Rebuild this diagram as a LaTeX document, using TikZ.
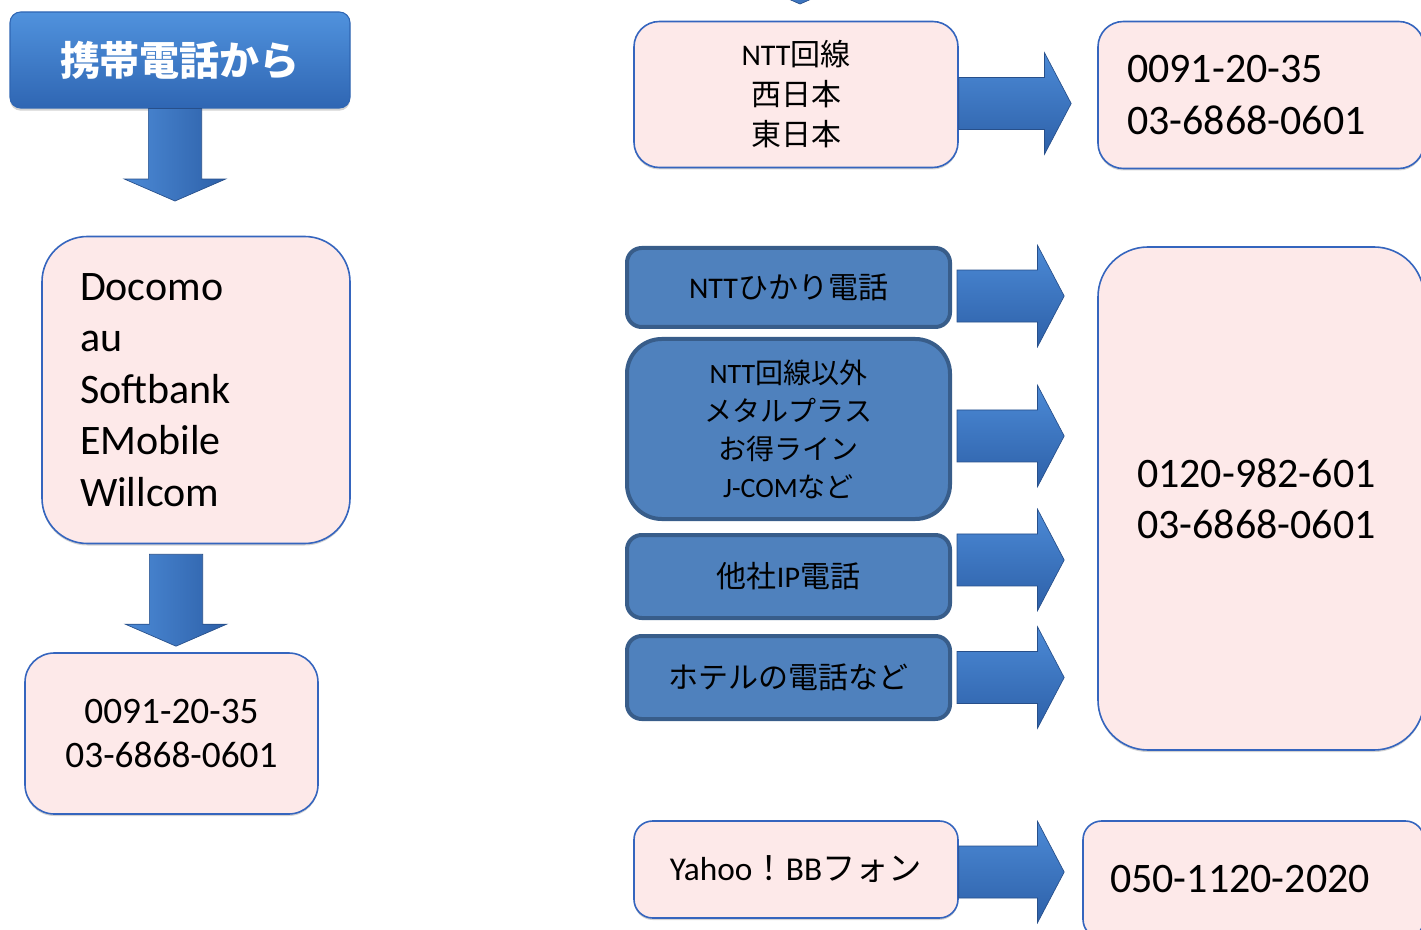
\documentclass[tikz,border=0pt]{standalone}
\usepackage{fontspec}
\setmainfont{Carlito}
\newfontfamily\jpfont{Noto Sans CJK JP}
\usetikzlibrary{calc, positioning, shadows}
\newcommand{\ja}[1]{{\jpfont #1}}
\definecolor{titlelight}{HTML}{5092DD}
\definecolor{titledark}{HTML}{2F66B3}
\definecolor{arrowlight}{HTML}{4C8AD6}
\definecolor{arrowdark}{HTML}{2D60A8}
\definecolor{arrowedge}{HTML}{274F8A}
\definecolor{pinkfill}{HTML}{FDE9E9}
\definecolor{pinkline}{HTML}{3565BE}
\definecolor{bluefill}{HTML}{4F81BD}
\definecolor{blueline}{HTML}{385D8A}
% block arrow to the right: start point, tip point (x only)
\newcommand{\rightblock}[2]{%
  \path[blockarrow] let \p1=(#1), \p2=(#2) in
    (\x1,\y1+19.5pt) -- (\x2-20pt,\y1+19.5pt) -- (\x2-20pt,\y1+38pt) -- (\x2,\y1)
    -- (\x2-20pt,\y1-38pt) -- (\x2-20pt,\y1-19.5pt) -- (\x1,\y1-19.5pt) -- cycle;}
% block arrow downwards: start point, tip point (y only)
\newcommand{\downblock}[2]{%
  \path[blockarrow, left color=arrowlight, right color=arrowdark] let \p1=(#1), \p2=(#2) in
    (\x1-20pt,\y1) -- (\x1+20pt,\y1) -- (\x1+20pt,\y2+16.5pt) -- (\x1+38pt,\y2+16.5pt)
    -- (\x1,\y2) -- (\x1-38pt,\y2+16.5pt) -- (\x1-20pt,\y2+16.5pt) -- cycle;}

\begin{document}
\begin{tikzpicture}[x=0.75pt, y=-0.75pt,
  pinkbox/.style={draw=pinkline, line width=1.2pt, fill=pinkfill, rounded corners=#1, inner sep=0pt,
    drop shadow={shadow xshift=0pt, shadow yshift=-1.5pt, opacity=0.35}},
  pinkbox/.default=19pt,
  bluebox/.style={draw=blueline, line width=3pt, fill=bluefill, rounded corners=#1, inner sep=0pt,
    minimum width=242.25pt, align=center, font=\fontsize{22.5pt}{28.5pt}\selectfont},
  bluebox/.default=11pt,
  titlebox/.style={draw=titledark, line width=0.8pt, top color=titlelight, bottom color=titledark,
    rounded corners=8pt, text=white, font=\fontsize{30pt}{36pt}\selectfont\bfseries,
    drop shadow={shadow xshift=0pt, shadow yshift=-2pt, opacity=0.35}},
  blockarrow/.style={draw=arrowedge, line width=0.5pt, top color=arrowlight, bottom color=arrowdark},
  bignum/.style={font=\fontsize{31.5pt}{38.3pt}\selectfont, align=left}]
\useasboundingbox (0,0) rectangle (1421,930);

% left column
\node[titlebox, minimum width=255pt, minimum height=72pt] (mobile) at (180,60) {\raisebox{-3pt}{\ja{携帯電話から}}};
\node[pinkbox=34pt, minimum width=231pt, minimum height=230.25pt, text width=174pt, align=left,
  font=\fontsize{31.5pt}{38.6pt}\selectfont] (carriers) at (196,390)
  {Docomo\\au\\Softbank\\EMobile\\Willcom};
\node[pinkbox=22pt, minimum width=219.75pt, minimum height=120.75pt, align=center,
  font=\fontsize{28pt}{33pt}\selectfont] (mobnum) at (171.5,733.5) {0091-20-35\\03-6868-0601};

% right column
\node[pinkbox, minimum width=243pt, minimum height=109.5pt, align=center,
  font=\fontsize{22.5pt}{30pt}\selectfont] (nttline) at (796,94.5) {NTT\ja{回線}\\\ja{西日本}\\\ja{東日本}};
\node[pinkbox, minimum width=244.5pt, minimum height=110.25pt, text width=201pt, bignum] (num1) at (1261,95)
  {0091-20-35\\03-6868-0601};
\node[bluebox, minimum height=59.25pt] (hikari) at (788.5,287.5) {NTT\ja{ひかり電話}};
\node[bluebox=26pt, minimum height=135pt, font=\fontsize{21pt}{28.5pt}\selectfont] (other) at (788.5,429)
  {NTT\ja{回線以外}\\\ja{メタルプラス}\\\ja{お得ライン}\\J-COM\ja{など}};
\node[bluebox, minimum height=62.25pt] (ipphone) at (788.5,576.5) {\ja{他社}IP\ja{電話}};
\node[bluebox, minimum height=62.25pt] (hotel) at (788.5,677.5) {\ja{ホテルの電話など}};
\node[pinkbox=37.5pt, minimum width=244.5pt, minimum height=377.25pt, text width=186pt, bignum] (num2) at (1261,498.5)
  {0120-982-601\\03-6868-0601};
\node[pinkbox=14pt, minimum width=243pt, minimum height=72.75pt, font=\fontsize{25pt}{30pt}\selectfont]
  (yahoo) at (796,869.5) {Yahoo\ja{！}BB\ja{フォン}};
\node[pinkbox=14pt, minimum width=255.75pt, minimum height=87.75pt, text width=215.25pt, bignum] (num3) at (1253.5,879.5)
  {050-1120-2020};

% block arrows
\coordinate (fromabove) at (800,-120);
\coordinate (abovetip) at (800,4);
\downblock{fromabove}{abovetip}
\downblock{[xshift=-3.75pt]mobile.south}{[yshift=26pt]carriers.north}
\downblock{[xshift=-15pt,yshift=-7.5pt]carriers.south}{[yshift=4.5pt]mobnum.north}
\rightblock{[yshift=-6.75pt]nttline.east}{[xshift=-19.5pt]num1.west}
\rightblock{[xshift=3.75pt,yshift=-6.4pt]hikari.east}{[xshift=-24.75pt]num2.west}
\rightblock{[xshift=3.75pt,yshift=-5.25pt]other.east}{[xshift=-24.75pt]num2.west}
\rightblock{[xshift=3.75pt,yshift=12.4pt]ipphone.east}{[xshift=-24.75pt]num2.west}
\rightblock{[xshift=3.75pt]hotel.east}{[xshift=-24.75pt]num2.west}
\rightblock{[yshift=-1.9pt]yahoo.east}{[xshift=-13.5pt]num3.west}
\end{tikzpicture}
\end{document}
